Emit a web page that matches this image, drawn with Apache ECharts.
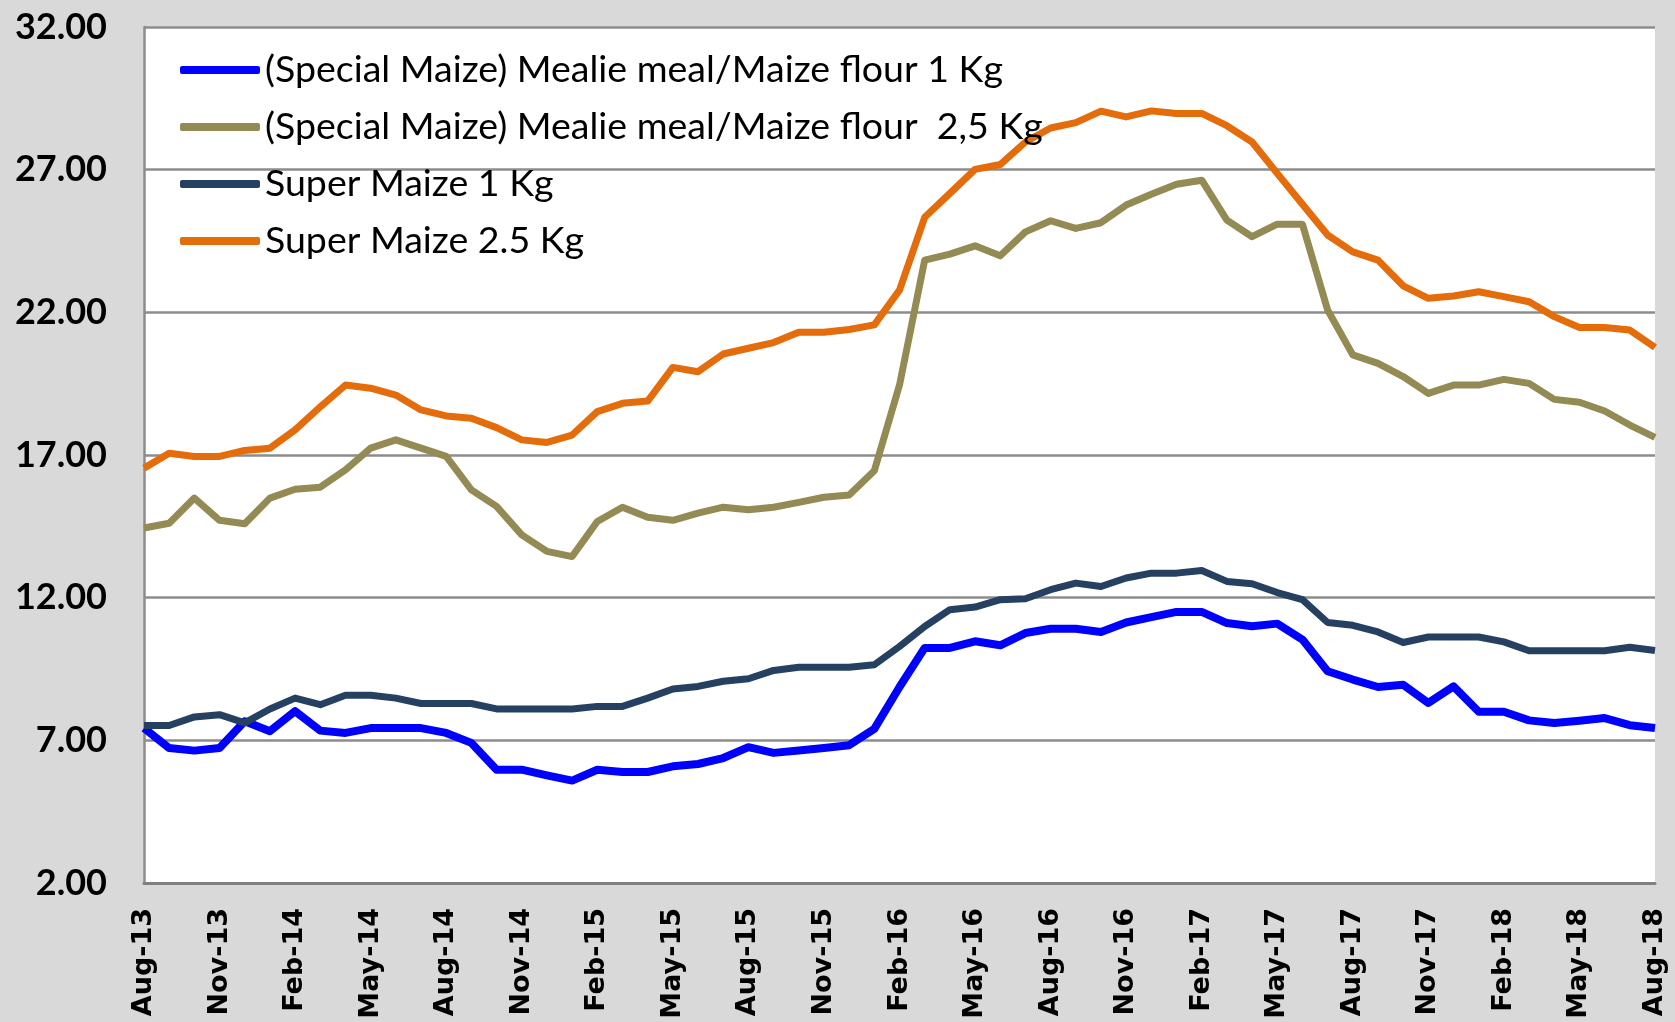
<!DOCTYPE html>
<html>
<head>
<meta charset="utf-8">
<script src="https://cdn.jsdelivr.net/npm/echarts/dist/echarts.min.js"></script>
<style>
  html, body { margin: 0; padding: 0; background: #d9d9d9; }
  #chart { width: 1675px; height: 1022px; }
</style>
</head>
<body>
<div id="chart"></div>
<script>
// months, Aug-13 .. Aug-18
const months = [
  'Aug-13','Sep-13','Oct-13','Nov-13','Dec-13','Jan-14','Feb-14','Mar-14','Apr-14','May-14','Jun-14','Jul-14',
  'Aug-14','Sep-14','Oct-14','Nov-14','Dec-14','Jan-15','Feb-15','Mar-15','Apr-15','May-15','Jun-15','Jul-15',
  'Aug-15','Sep-15','Oct-15','Nov-15','Dec-15','Jan-16','Feb-16','Mar-16','Apr-16','May-16','Jun-16','Jul-16',
  'Aug-16','Sep-16','Oct-16','Nov-16','Dec-16','Jan-17','Feb-17','Mar-17','Apr-17','May-17','Jun-17','Jul-17',
  'Aug-17','Sep-17','Oct-17','Nov-17','Dec-17','Jan-18','Feb-18','Mar-18','Apr-18','May-18','Jun-18','Jul-18',
  'Aug-18'
]

const specialMaize1kg = [
  7.43, 6.73, 6.64, 6.73, 7.67, 7.32, 8.02, 7.34, 7.26, 7.43, 7.43, 7.43,
  7.26, 6.91, 5.97, 5.97, 5.77, 5.59, 5.97, 5.89, 5.89, 6.09, 6.17, 6.38,
  6.76, 6.56, 6.64, 6.73, 6.83, 7.40, 8.87, 10.24, 10.24, 10.47, 10.33, 10.76,
  10.91, 10.91, 10.80, 11.13, 11.32, 11.50, 11.50, 11.11, 11.00, 11.09, 10.53, 9.42,
  9.13, 8.87, 8.95, 8.31, 8.89, 8.00, 8.00, 7.70, 7.61, 7.69, 7.78, 7.53,
  7.43
]

const specialMaize25kg = [
  14.44, 14.61, 15.49, 14.71, 14.59, 15.49, 15.80, 15.87, 16.48, 17.24, 17.53, 17.24,
  16.95, 15.78, 15.20, 14.20, 13.62, 13.44, 14.67, 15.17, 14.82, 14.71, 14.96, 15.17,
  15.08, 15.17, 15.34, 15.52, 15.60, 16.45, 19.45, 23.83, 24.04, 24.33, 23.98, 24.82,
  25.21, 24.94, 25.14, 25.76, 26.14, 26.49, 26.63, 25.23, 24.65, 25.09, 25.09, 22.08,
  20.51, 20.21, 19.75, 19.16, 19.45, 19.45, 19.65, 19.51, 18.95, 18.85, 18.54, 18.05,
  17.62
]

const superMaize1kg = [
  7.52, 7.52, 7.82, 7.90, 7.61, 8.10, 8.48, 8.25, 8.58, 8.58, 8.48, 8.29,
  8.29, 8.29, 8.10, 8.10, 8.10, 8.10, 8.19, 8.19, 8.48, 8.80, 8.89, 9.07,
  9.16, 9.45, 9.56, 9.56, 9.56, 9.65, 10.29, 10.99, 11.58, 11.67, 11.93, 11.96,
  12.28, 12.51, 12.39, 12.69, 12.86, 12.86, 12.95, 12.57, 12.49, 12.18, 11.93, 11.13,
  11.03, 10.80, 10.43, 10.62, 10.62, 10.62, 10.45, 10.14, 10.14, 10.14, 10.14, 10.26,
  10.15
]

const superMaize25kg = [
  16.54, 17.06, 16.95, 16.95, 17.16, 17.24, 17.88, 18.69, 19.45, 19.34, 19.10, 18.58,
  18.37, 18.29, 17.96, 17.53, 17.44, 17.70, 18.52, 18.81, 18.89, 20.07, 19.92, 20.54,
  20.74, 20.94, 21.30, 21.30, 21.40, 21.56, 22.78, 25.33, 26.17, 27.01, 27.18, 27.97,
  28.46, 28.65, 29.05, 28.85, 29.06, 28.97, 28.97, 28.54, 27.97, 26.87, 25.79, 24.71,
  24.12, 23.83, 22.93, 22.49, 22.57, 22.72, 22.55, 22.37, 21.85, 21.47, 21.47, 21.38,
  20.77
]

const seriesNames = [
  '(Special Maize) Mealie meal/Maize flour 1 Kg',
  '(Special Maize) Mealie meal/Maize flour  2,5 Kg',
  'Super Maize 1 Kg',
  'Super Maize 2.5 Kg'
]
const seriesData = [specialMaize1kg, specialMaize25kg, superMaize1kg, superMaize25kg]
const colors = ['#0000ff', '#948a54', '#254061', '#e46c0a']
const widths = [8, 7, 7, 7]

let chart = echarts.init(document.getElementById('chart'))

let option = {
    backgroundColor: '#d9d9d9',
    color: colors,
    animation: false,
    grid: {
        left: 144,
        right: 20,
        top: 27,
        bottom: 139,
        show: true,
        backgroundColor: '#ffffff',
        borderWidth: 0
    },
    legend: {
        orient: 'vertical',
        left: 175,
        top: 46,
        icon: 'roundRect',
        itemWidth: 80,
        itemHeight: 8,
        itemGap: 19,
        data: seriesNames,
        textStyle: {
            fontFamily: 'Lato',
            fontSize: 37.5,
            lineHeight: 38,
            color: '#000'
        }
    },
    xAxis: {
        type: 'category',
        boundaryGap: false,
        data: months,
        axisLine: { lineStyle: { color: '#808080', width: 3 } },
        axisTick: { show: false },
        axisLabel: {
            interval: 2,
            rotate: 90,
            margin: 25,
            color: '#000',
            fontFamily: 'DejaVu Sans',
            fontWeight: 'bold',
            fontSize: 27
        }
    },
    yAxis: {
        type: 'value',
        min: 2,
        max: 32,
        interval: 5,
        axisLine: { show: true, lineStyle: { color: '#8c8c8c', width: 2.5 } },
        axisTick: { show: false },
        splitLine: { lineStyle: { color: '#8c8c8c', width: 2.5 } },
        axisLabel: {
            margin: 37,
            color: '#000',
            fontFamily: 'Lato',
            fontWeight: 'bold',
            fontSize: 36,
            formatter: v => v.toFixed(2)
        }
    },
    series: seriesNames.map((name, i) => ({
        name: name,
        type: 'line',
        data: seriesData[i],
        symbol: 'none',
        lineStyle: { width: widths[i], color: colors[i], join: 'round' }
    }))
}

chart.setOption(option)
</script>
</body>
</html>
